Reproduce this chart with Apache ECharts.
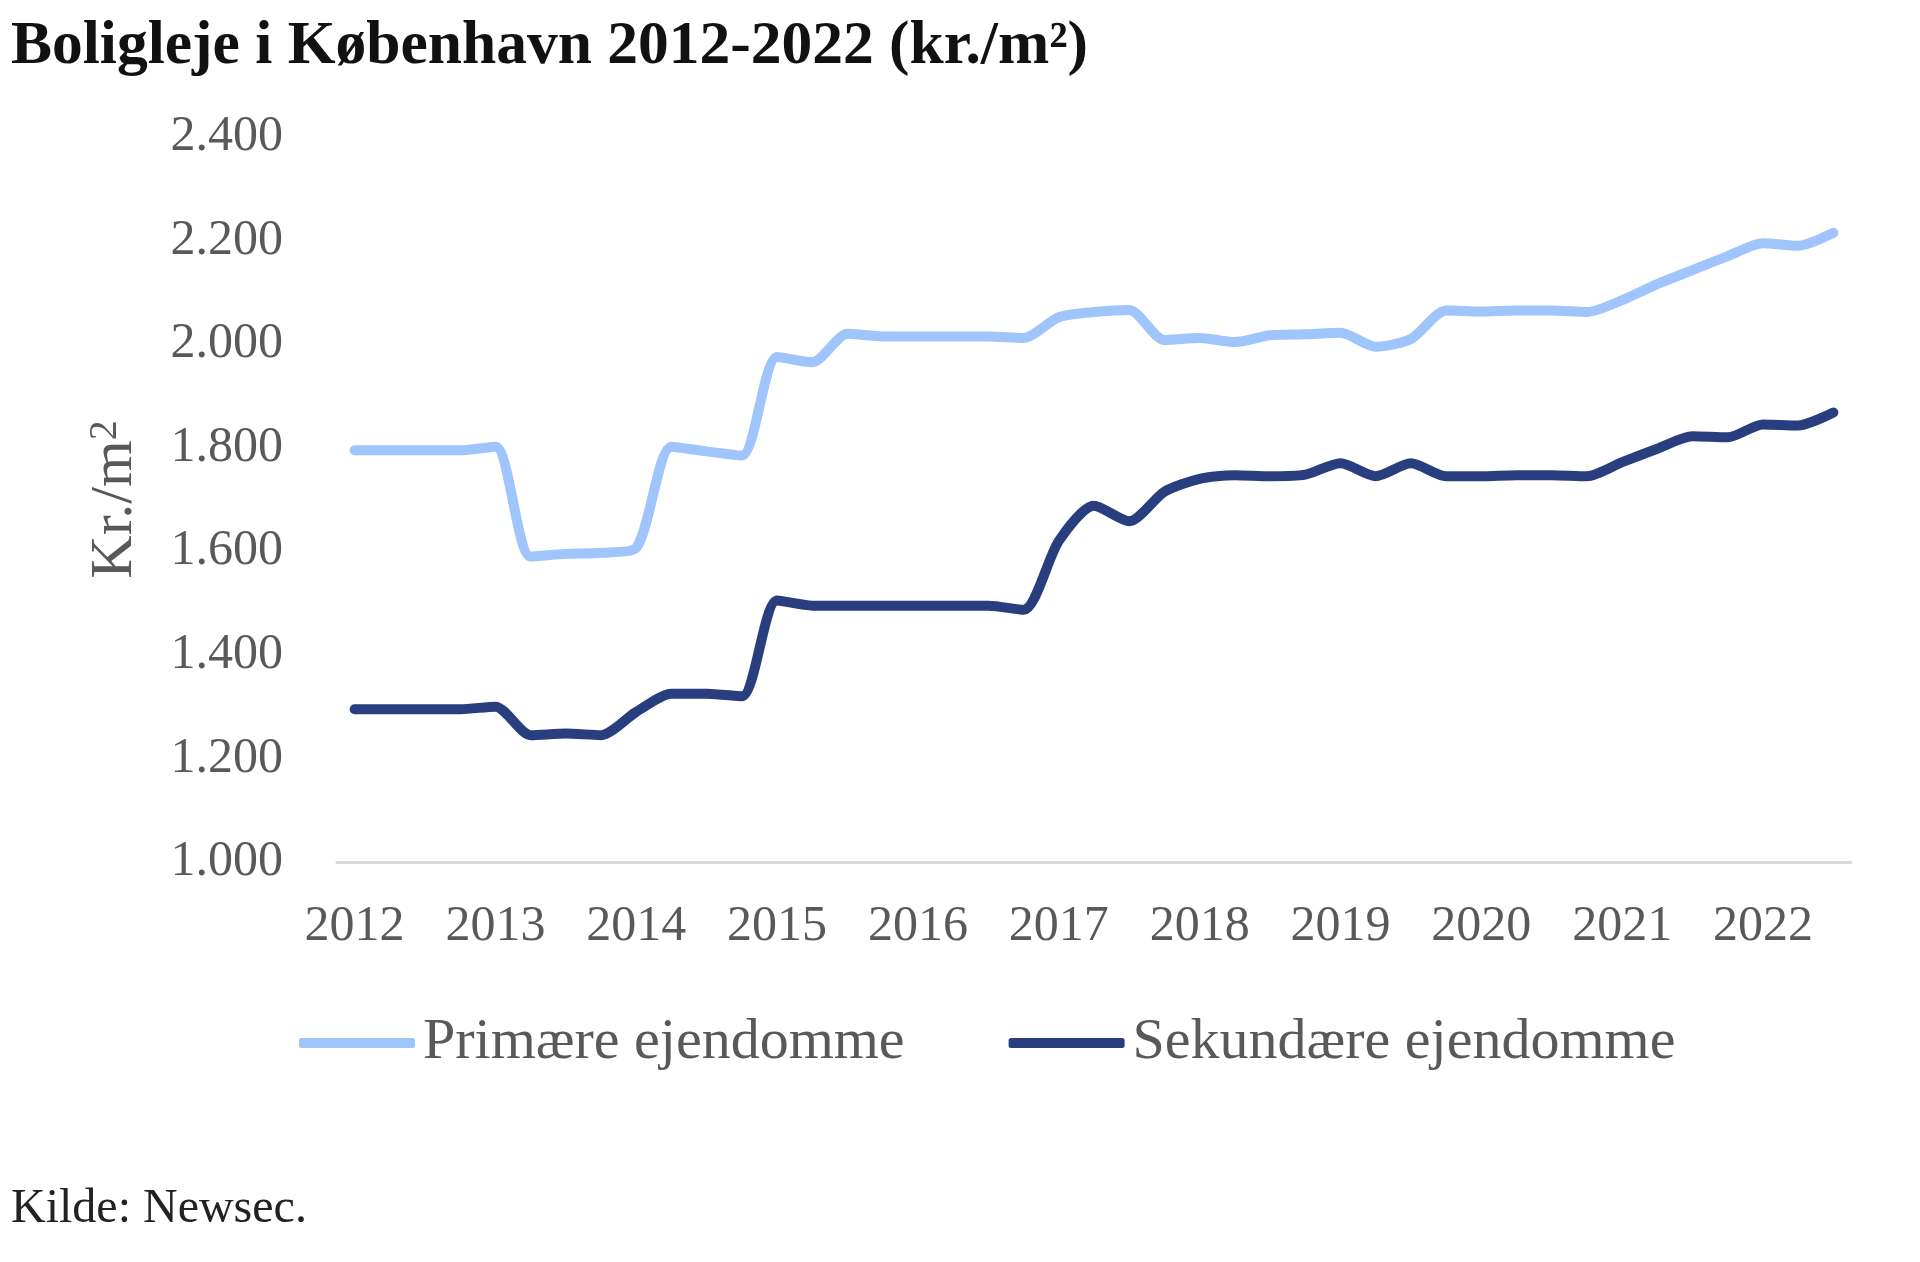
<!DOCTYPE html>
<html>
<head>
<meta charset="utf-8">
<script src="https://cdn.jsdelivr.net/npm/echarts@6/dist/echarts.min.js"></script>
<style>
html,body{margin:0;padding:0;background:#fff;}
#chart{width:1920px;height:1262px;}
</style>
</head>
<body>
<div id="chart"></div>
<script>
// Quarterly periods, 2012 Q1 to 2022 Q3
const categories = [
  '2012K1','2012K2','2012K3','2012K4',
  '2013K1','2013K2','2013K3','2013K4',
  '2014K1','2014K2','2014K3','2014K4',
  '2015K1','2015K2','2015K3','2015K4',
  '2016K1','2016K2','2016K3','2016K4',
  '2017K1','2017K2','2017K3','2017K4',
  '2018K1','2018K2','2018K3','2018K4',
  '2019K1','2019K2','2019K3','2019K4',
  '2020K1','2020K2','2020K3','2020K4',
  '2021K1','2021K2','2021K3','2021K4',
  '2022K1','2022K2','2022K3'
];
const primaere = [
  1795,1795,1795,1795,
  1802,1590,1595,1597,
  1607,1802,1793,1785,
  1975,1965,2020,2015,
  2015,2015,2015,2012,
  2052,2062,2066,2008,
  2012,2004,2017,2019,
  2022,1995,2010,2065,
  2063,2065,2065,2062,
  2085,2116,2143,2170,
  2195,2190,2215
];
const sekundaere = [
  1295,1295,1295,1295,
  1300,1245,1248,1245,
  1290,1325,1325,1320,
  1505,1495,1495,1495,
  1495,1495,1495,1487,
  1620,1688,1658,1715,
  1740,1747,1745,1748,
  1770,1745,1770,1745,
  1745,1747,1747,1745,
  1772,1798,1822,1820,
  1845,1843,1868
];
const seriesNames = ['Primære ejendomme','Sekundære ejendomme'];
const colors = ['#A0C4FC','#293E7F'];

const FONT = '"Liberation Serif", "DejaVu Serif", serif';
const chart = echarts.init(document.getElementById('chart'), null, {renderer:'canvas'});
chart.setOption({
  backgroundColor:'#ffffff',
  animation:false,
  title:[{
    text:'Boligleje i København 2012-2022 (kr./m²)',
    left:6, top:11,
    textStyle:{fontFamily:FONT,fontWeight:'bold',fontSize:61.5,color:'#111111'}
  },{
    text:'Kilde: Newsec.',
    left:6, top:1180,
    textStyle:{fontFamily:FONT,fontWeight:'normal',fontSize:48,color:'#222222'}
  }],
  legend:{
    data:seriesNames,
    left:294, top:1009,
    itemWidth:116, itemHeight:10, itemGap:104,
    icon:'roundRect',
    textStyle:{fontFamily:FONT,fontSize:58,color:'#595959',padding:[0,0,0,3]}
  },
  grid:{left:337,right:69,top:137,bottom:400,containLabel:false},
  xAxis:{
    type:'category',
    data:categories,
    boundaryGap:true,
    axisLine:{show:true,lineStyle:{color:'#D9D9D9',width:3}},
    axisTick:{show:false},
    splitLine:{show:false},
    axisLabel:{
      interval:3,
      margin:40,
      fontFamily:FONT,fontSize:50,color:'#595959',
      formatter:function(v){return v.slice(0,4);}
    }
  },
  yAxis:{
    type:'value',
    min:1000,max:2400,interval:200,
    name:'Kr./m{sup|2}',
    nameLocation:'middle',
    nameRotate:90,
    nameGap:192,
    nameTextStyle:{
      fontFamily:FONT,fontSize:60,color:'#595959',
      rich:{sup:{fontFamily:FONT,fontSize:40,color:'#595959',verticalAlign:'top',padding:[0,0,18,0]}}
    },
    axisLine:{show:false},
    axisTick:{show:false},
    splitLine:{show:false},
    axisLabel:{
      margin:54,
      fontFamily:FONT,fontSize:50,color:'#595959',
      formatter:function(v){return String(v).replace(/\B(?=(\d{3})+(?!\d))/g,'.');}
    }
  },
  series:[{
    name:seriesNames[0],
    type:'line',
    data:primaere,
    smooth:0.25,
    symbol:'none',
    color:colors[0],
    lineStyle:{width:10,color:colors[0],cap:'round',join:'round'}
  },{
    name:seriesNames[1],
    type:'line',
    data:sekundaere,
    smooth:0.25,
    symbol:'none',
    color:colors[1],
    lineStyle:{width:10,color:colors[1],cap:'round',join:'round'}
  }]
});
</script>
</body>
</html>
